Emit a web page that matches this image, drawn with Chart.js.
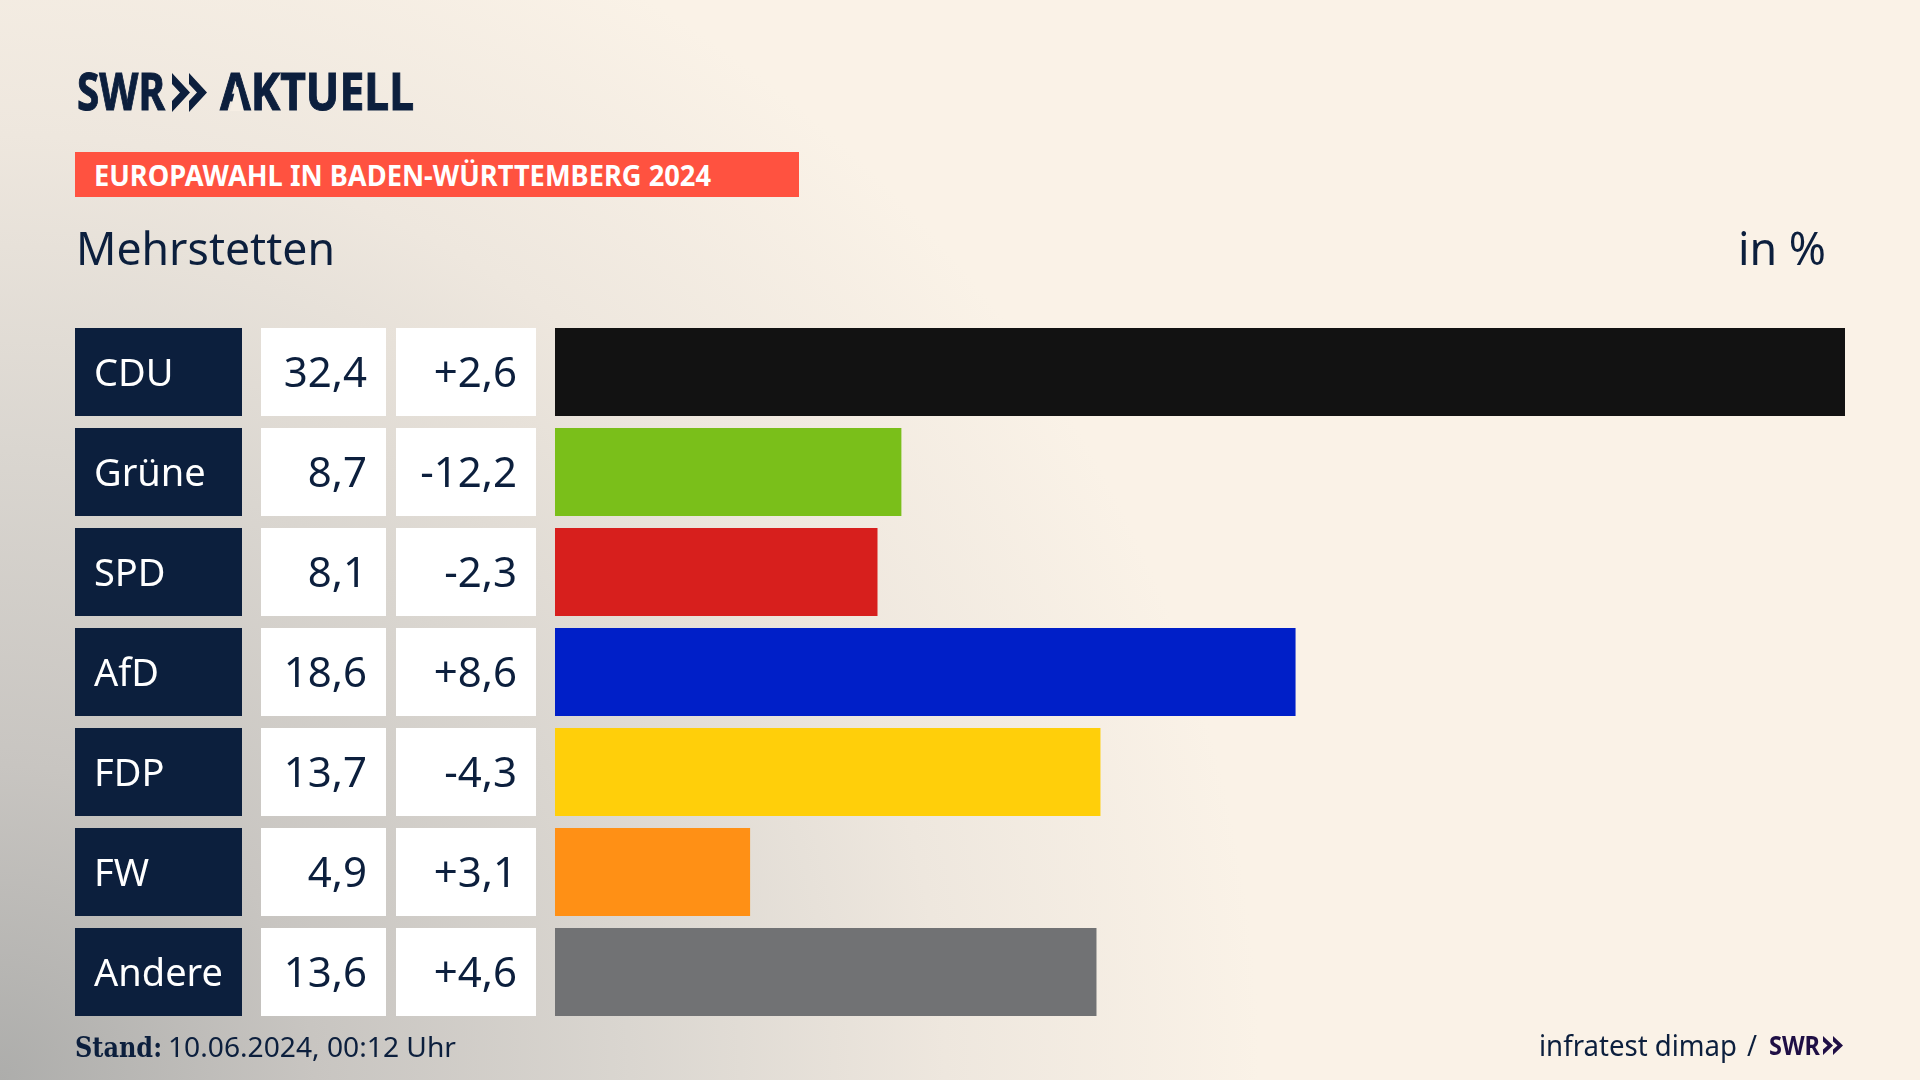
<!DOCTYPE html>
<html lang="de"><head><meta charset="utf-8"><title>Europawahl Mehrstetten</title>
<script src="https://cdn.jsdelivr.net/npm/chart.js@4"></script>
<style>
html,body{margin:0;padding:0;width:1920px;height:1080px;overflow:hidden}
body{position:relative;background-color:#FAF2E7;
background-image:
 radial-gradient(circle 1260px at 0px 1080px,#ADADAB 0%,#C8C5C1 25%,#DAD6D0 50%,#EEE7DE 75%,#FAF2E7 100%);}
canvas{position:absolute;left:0;top:0}
.t{position:absolute;white-space:nowrap;transform-origin:0 0;font-family:"Noto Sans",sans-serif;color:#0C1F3D;line-height:1}
.logo{-webkit-text-stroke:1px #0C1F3D}
#tag{position:absolute;left:75px;top:152px;width:724px;height:45px;background:#FF5240}
svg{position:absolute;overflow:visible}
</style></head><body>
<canvas id="c" width="1920" height="1080"></canvas>
<div id="tag"></div>
<div class="t logo" data-w="88" style="left:77px;top:64px;font-size:52px;font-weight:700">SWR</div>
<svg style="left:172px;top:73px" width="36" height="39" viewBox="0 0 36 39"><path fill="#0C1F3D" d="M0 0L18 19.5L0 39L0 28L8 19.5L0 11ZM17 0L35 19.5L17 39L17 28L25 19.5L17 11Z"/></svg>
<div class="t logo" data-w="194" style="left:220px;top:64px;font-size:52px;font-weight:700">AKTUELL</div>
<svg style="left:0;top:0" width="300" height="120" viewBox="0 0 300 120"><path fill="#F6EEE4" d="M230 111L236 87L238 87L244 111Z"/></svg>
<div class="t" data-w="617" style="left:94px;top:160px;font-size:29px;font-weight:700;color:#fff">EUROPAWAHL IN BADEN-WÜRTTEMBERG 2024</div>
<div class="t" data-w="259" style="left:76px;top:225px;font-size:45px;font-weight:400">Mehrstetten</div>
<div class="t" data-w="88" style="left:1738px;top:225px;font-size:45px;font-weight:400">in %</div>
<div class="t" data-w="87" style="left:75px;top:1034px;font-size:28px;font-weight:700;font-family:'DejaVu Serif',serif">Stand:</div>
<div class="t" data-w="288" style="left:168px;top:1032px;font-size:28px">10.06.2024, 00:12 Uhr</div>
<div class="t" data-w="198" style="left:1539px;top:1030px;font-size:29px">infratest dimap</div>
<div class="t" data-w="10" style="left:1747px;top:1030px;font-size:29px">/</div>
<div class="t" data-w="51" style="left:1769px;top:1031px;font-size:27px;font-weight:700;color:#1F0F45">SWR</div>
<svg style="left:1823px;top:1036px" width="20" height="19" viewBox="0 0 20 19"><path fill="#1F0F45" d="M0 0L10 9.5L0 19L0 13.5L4.5 9.5L0 5.5ZM10 0L20 9.5L10 19L10 13.5L14.5 9.5L10 5.5Z"/></svg>
<script>
const parties = ["CDU","Grüne","SPD","AfD","FDP","FW","Andere"];
const results = [32.4,8.7,8.1,18.6,13.7,4.9,13.6];
const changes = [2.6,-12.2,-2.3,8.6,-4.3,3.1,4.6];
const partyColors = ["#121212","#7ABF1A","#D71F1D","#001FC8","#FFCF0A","#FF9015","#717274"];

const de = v => v.toFixed(1).replace(".", ",");
const signed = v => (v > 0 ? "+" : "") + de(v);

const tablePlugin = {
  id: "table",
  beforeDraw(chart) {
    const ctx = chart.ctx, meta = chart.getDatasetMeta(0).data;
    ctx.save();
    meta.forEach(bar => {
      const top = bar.y - bar.height / 2, h = bar.height;
      ctx.fillStyle = "#0C1F3D"; ctx.fillRect(75, top, 167, h);
      ctx.fillStyle = "#FFFFFF"; ctx.fillRect(261, top, 125, h); ctx.fillRect(396, top, 140, h);
    });
    ctx.restore();
  },
  afterDraw(chart) {
    const ctx = chart.ctx, meta = chart.getDatasetMeta(0).data;
    ctx.save();
    ctx.font = '400 42px "Noto Sans"'; ctx.fillStyle = "#0C1F3D";
    ctx.textAlign = "right"; ctx.textBaseline = "middle";
    meta.forEach((bar, i) => {
      ctx.fillText(de(results[i]), 367, bar.y + 3);
      ctx.fillText(signed(changes[i]), 517, bar.y + 3);
    });
    ctx.restore();
  }
};

new Chart(document.getElementById("c"), {
  type: "bar",
  plugins: [tablePlugin],
  data: { labels: parties, datasets: [{ data: results, backgroundColor: partyColors, borderWidth: 0, barPercentage: 0.88, categoryPercentage: 1 }] },
  options: {
    indexAxis: "y", responsive: false, animation: false, devicePixelRatio: 1,
    layout: { padding: { left: 94, right: 75, top: 322, bottom: 58 } },
    plugins: { legend: { display: false }, tooltip: { enabled: false } },
    scales: {
      x: { display: false, min: 0, max: 32.4 },
      y: {
        afterFit(a) { a.width = 461; },
        grid: { display: false }, border: { display: false },
        ticks: { crossAlign: "far", color: "#FFFFFF", font: { family: "Noto Sans", size: 38 }, padding: 0, labelOffset: 3 }
      }
    }
  }
});

document.querySelectorAll(".t[data-w]").forEach(el => {
  const w = el.getBoundingClientRect().width;
  el.style.transform = "scaleX(" + (+el.dataset.w / w) + ")";
});
</script>
</body></html>
